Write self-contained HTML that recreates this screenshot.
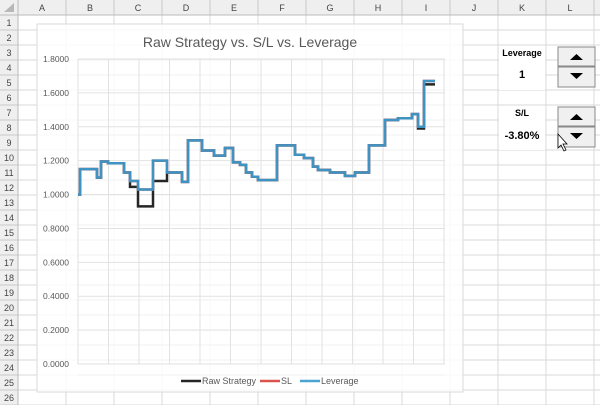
<!DOCTYPE html>
<html><head><meta charset="utf-8"><style>
html,body{margin:0;padding:0;background:#fff;}
svg{display:block;font-family:"Liberation Sans",sans-serif;}
</style></head><body>
<svg id="s" width="600" height="405" viewBox="0 0 600 405">
<g id="grid"></g>
<g id="hdr"></g>
<g id="chart">
  <rect x="37" y="24" width="426" height="368" fill="#fff" fill-opacity="0.85" stroke="#d9d9d9"/>
  <g id="cgrid"></g>
  <text x="250" y="47" text-anchor="middle" font-size="14" fill="#595959">Raw Strategy vs. S/L vs. Leverage</text>
  <g id="yax"></g>
  <g id="series"></g>
  <g font-size="9" fill="#595959">
    <g><line x1="181" y1="381" x2="201" y2="381" stroke="#262626" stroke-width="2.5"/><text x="202" y="384">Raw Strategy</text></g>
    <g><line x1="260" y1="381" x2="280" y2="381" stroke="#d9534f" stroke-width="2.5"/><text x="281" y="384">SL</text></g>
    <g><line x1="300" y1="381" x2="320" y2="381" stroke="#4aa3d0" stroke-width="2.5"/><text x="321" y="384">Leverage</text></g>
  </g>
</g>
<g font-size="10" font-weight="bold" fill="#000">
  <rect x="499" y="46" width="46" height="44" fill="#fff"/>
  <rect x="499" y="106" width="46" height="44" fill="#fff"/>
  <text x="522" y="56" text-anchor="middle" font-size="9">Leverage</text>
  <text x="522" y="78" text-anchor="middle" font-size="11">1</text>
  <text x="522" y="116" text-anchor="middle" font-size="9">S/L</text>
  <text x="522" y="139" text-anchor="middle" font-size="11">-3.80%</text>
  <g><rect x="558" y="47" width="37" height="19" fill="#f0f0f0" stroke="#888"/><path d="M570 60 L576.5 54 L583 60Z" fill="#000"/></g>
  <g><rect x="558" y="67" width="37" height="20" fill="#f0f0f0" stroke="#888"/><path d="M570 73 L576.5 79 L583 73Z" fill="#000"/></g>
  <g><rect x="558" y="107" width="37" height="19" fill="#f0f0f0" stroke="#888"/><path d="M570 120 L576.5 114 L583 120Z" fill="#000"/></g>
  <g><rect x="558" y="127" width="37" height="20" fill="#f0f0f0" stroke="#888"/><path d="M570 133 L576.5 139 L583 133Z" fill="#000"/></g>
  <path d="M558 134 L558 148 L561 145 L564 151 L566 150 L563 144 L567 144Z" fill="#fff" stroke="#000" stroke-width="0.8"/>
</g>
</svg>
<script>
const segStart=[0,2,19,23,30,46,52,60,75,89,104,110,124,136,147,155,162,168,174,180,199,217,226,235,240,252,267,277,291,307,320,334,340,346];
const rawVals=[1.00,1.15,1.10,1.195,1.185,1.13,1.045,0.93,1.08,1.13,1.075,1.32,1.26,1.23,1.275,1.19,1.175,1.13,1.105,1.085,1.29,1.235,1.215,1.165,1.145,1.13,1.11,1.13,1.29,1.44,1.45,1.475,1.39,1.65];
const slVals=[1.00,1.15,1.10,1.195,1.185,1.13,1.08,1.03,1.20,1.13,1.075,1.32,1.26,1.23,1.275,1.19,1.175,1.13,1.105,1.085,1.29,1.235,1.215,1.165,1.145,1.13,1.11,1.13,1.29,1.44,1.45,1.475,1.40,1.67];
const levVals=[1.00,1.15,1.10,1.195,1.185,1.13,1.08,1.03,1.20,1.13,1.075,1.32,1.26,1.23,1.275,1.19,1.175,1.13,1.105,1.085,1.29,1.235,1.215,1.165,1.145,1.13,1.11,1.13,1.29,1.44,1.45,1.475,1.40,1.67];
const endDay=357;
const yTicks=["0.0000","0.2000","0.4000","0.6000","0.8000","1.0000","1.2000","1.4000","1.6000","1.8000"];
const colLabels=["A","B","C","D","E","F","G","H","I","J","K","L"];

const NS="http://www.w3.org/2000/svg";
function mk(t,a,p){const e=document.createElementNS(NS,t);for(const k in a)e.setAttribute(k,a[k]);p.appendChild(e);return e;}
const X=d=>78+d*(435-78)/endDay;
const Y=v=>364-v*(364-59)/1.8;

// sheet grid
const grid=document.getElementById('grid'),hdr=document.getElementById('hdr');
for(let c=0;c<=12;c++){const x=18+c*48;mk('line',{x1:x,y1:0,x2:x,y2:405,stroke:'#dadada'},grid);}
for(let r=0;r<=26;r++){const y=15+r*15;mk('line',{x1:0,y1:y,x2:600,y2:y,stroke:'#dadada'},grid);}
mk('rect',{x:0,y:0,width:600,height:15,fill:'#efefef'},hdr);
mk('rect',{x:0,y:0,width:18,height:405,fill:'#efefef'},hdr);
mk('path',{d:'M4 12 L14 12 L14 3Z',fill:'#b8b8b8'},hdr);
colLabels.forEach((l,i)=>{
  const x=18+i*48;
  mk('line',{x1:x+48,y1:0,x2:x+48,y2:15,stroke:'#c8c8c8'},hdr);
  const t=mk('text',{x:x+24,y:11,'text-anchor':'middle','font-size':'9',fill:'#444'},hdr);t.textContent=l;
  
  
});
for(let r=1;r<=26;r++){
  const y=15+r*15;
  mk('line',{x1:0,y1:y,x2:18,y2:y,stroke:'#c8c8c8'},hdr);
  const t=mk('text',{x:9,y:y-4,'text-anchor':'middle','font-size':'9',fill:'#444'},hdr);t.textContent=r;
  
  
}
mk('line',{x1:18,y1:0,x2:18,y2:405,stroke:'#bbb'},hdr);
mk('line',{x1:0,y1:15,x2:600,y2:15,stroke:'#bbb'},hdr);

// chart grid
const cg=document.getElementById('cgrid');
for(let r=3;r<=24;r++){const y=15+r*15;mk('line',{x1:78,y1:y,x2:445,y2:y,stroke:'#f0f0f0'},cg);}
yTicks.forEach((l,i)=>{const y=Y(i*0.2);mk('line',{x1:78,y1:y,x2:445,y2:y,stroke:'#e2e2e2'},cg);});
for(let k=0;k<=12;k++){const x=78+k*30.5;mk('line',{x1:x,y1:59,x2:x,y2:364,stroke:'#e2e2e2'},cg);}
const ya=document.getElementById('yax');
yTicks.forEach((l,i)=>{
  const t=mk('text',{x:69,y:Y(i*0.2)+3,'text-anchor':'end','font-size':'8.5',fill:'#595959'},ya);t.textContent=l;
  
  
});

function stepPath(vals){
  let d='M'+X(segStart[0])+' '+Y(vals[0]);
  for(let i=0;i<vals.length;i++){
    const x2=X(i+1<segStart.length?segStart[i+1]:endDay);
    d+=' L'+x2+' '+Y(vals[i]);
    if(i+1<vals.length)d+=' L'+x2+' '+Y(vals[i+1]);
  }
  return d;
}
const sg=document.getElementById('series');
const p1=mk('path',{d:stepPath(rawVals),fill:'none',stroke:'#262626','stroke-width':2.5},sg);


const p2=mk('path',{d:stepPath(slVals),fill:'none',stroke:'#d9534f','stroke-width':2.5},sg);


const p3=mk('path',{d:stepPath(levVals),fill:'none',stroke:'#3f93c2','stroke-width':2.5},sg);


</script>
</body></html>
